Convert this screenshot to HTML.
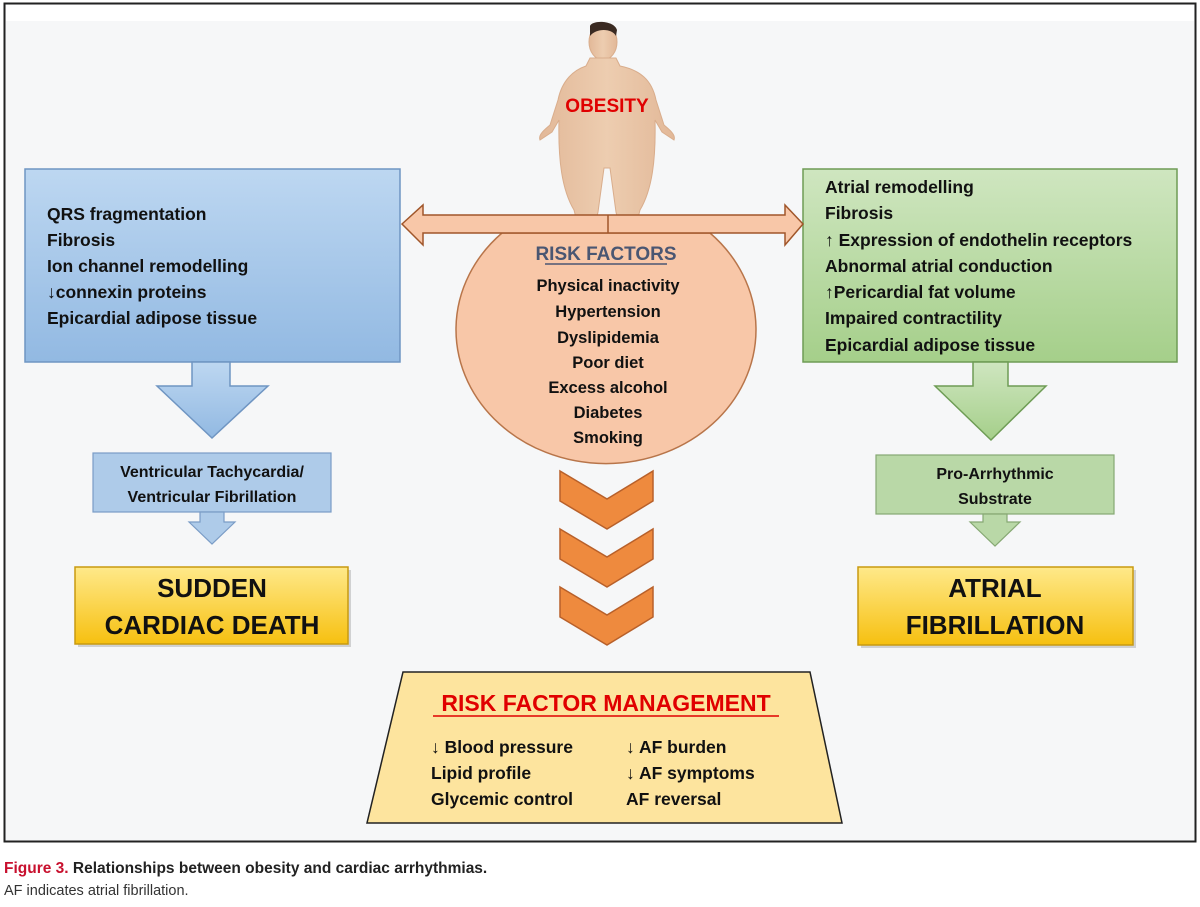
<!DOCTYPE html>
<html><head><meta charset="utf-8"><style>
html,body{margin:0;padding:0;background:#fff;width:1200px;height:907px;overflow:hidden}
svg{display:block}
text{font-family:"Liberation Sans",sans-serif;font-weight:bold}
</style></head><body>
<svg width="1200" height="907" viewBox="0 0 1200 907" xmlns="http://www.w3.org/2000/svg">
<defs>
<linearGradient id="gb" x1="0" y1="0" x2="0" y2="1"><stop offset="0" stop-color="#bdd7f1"/><stop offset="1" stop-color="#92b9e2"/></linearGradient>
<linearGradient id="gg" x1="0" y1="0" x2="0" y2="1"><stop offset="0" stop-color="#cfe6c0"/><stop offset="1" stop-color="#a5cf8a"/></linearGradient>
<linearGradient id="gy" x1="0" y1="0" x2="0" y2="1"><stop offset="0" stop-color="#ffe98a"/><stop offset="1" stop-color="#f6c010"/></linearGradient>
<linearGradient id="gsk" x1="0" y1="0" x2="1" y2="0"><stop offset="0" stop-color="#e2b898"/><stop offset="0.5" stop-color="#edcdb0"/><stop offset="1" stop-color="#e2b898"/></linearGradient>
</defs>
<rect x="4.5" y="3.5" width="1191" height="838" fill="#f6f7f8" stroke="#222" stroke-width="2"/>
<rect x="6" y="5" width="1188" height="16" fill="#fff"/>

<!-- obesity figure -->
<g fill="url(#gsk)" stroke="#d9ad8c" stroke-width="1">
<ellipse cx="603" cy="42" rx="14" ry="18"/>
<path d="M590,58 L616,58 L620,66 C640,70 652,80 656,100 L664,125 C670,130 676,135 674,140 L662,132 L655,120 C656,160 652,190 640,210 L636,226 L620,229 L616,212 L610,168 L604,168 L598,212 L594,229 L578,226 L574,210 C562,190 558,160 559,120 L552,132 L540,140 C538,135 544,130 550,125 L558,100 C562,80 574,70 586,66 Z"/>
</g>
<path d="M590,26 C592,20 614,20 617,30 L616,36 C612,28 596,28 590,36 Z" fill="#3a2a22"/>
<text x="607" y="112" font-size="19" fill="#e00000" text-anchor="middle">OBESITY</text>

<!-- blue box -->
<rect x="25" y="169" width="375" height="193" fill="url(#gb)" stroke="#6f95c2" stroke-width="1.5"/>
<g font-size="17.5" fill="#111">
<text x="47" y="220">QRS fragmentation</text>
<text x="47" y="246">Fibrosis</text>
<text x="47" y="272">Ion channel remodelling</text>
<text x="47" y="298">↓connexin proteins</text>
<text x="47" y="324">Epicardial adipose tissue</text>
</g>
<path d="M192,362 L230,362 L230,386 L268,386 L212,438 L157,386 L192,386 Z" fill="url(#gb)" stroke="#6f95c2" stroke-width="1.5"/>
<rect x="93" y="453" width="238" height="59" fill="#aecbe9" stroke="#7a9cc6" stroke-width="1.2"/>
<text x="212" y="477" font-size="16" fill="#111" text-anchor="middle">Ventricular Tachycardia/</text>
<text x="212" y="502" font-size="16" fill="#111" text-anchor="middle">Ventricular Fibrillation</text>
<path d="M200,512 L224,512 L224,522 L235,522 L212,544 L189,522 L200,522 Z" fill="#aecbe9" stroke="#7a9cc6" stroke-width="1.2"/>
<rect x="78" y="570" width="273" height="77" fill="#999" opacity="0.4"/>
<rect x="75" y="567" width="273" height="77" fill="url(#gy)" stroke="#c89a10" stroke-width="1.5"/>
<text x="212" y="597" font-size="26" fill="#111" text-anchor="middle">SUDDEN</text>
<text x="212" y="634" font-size="26" fill="#111" text-anchor="middle">CARDIAC DEATH</text>

<!-- green box -->
<rect x="803" y="169" width="374" height="193" fill="url(#gg)" stroke="#6e9c55" stroke-width="1.5"/>
<g font-size="17.5" fill="#111">
<text x="825" y="193">Atrial remodelling</text>
<text x="825" y="219">Fibrosis</text>
<text x="825" y="246">↑ Expression of endothelin receptors</text>
<text x="825" y="272">Abnormal atrial conduction</text>
<text x="825" y="298">↑Pericardial fat volume</text>
<text x="825" y="324">Impaired contractility</text>
<text x="825" y="351">Epicardial adipose tissue</text>
</g>
<path d="M973,362 L1008,362 L1008,386 L1046,386 L991,440 L935,386 L973,386 Z" fill="url(#gg)" stroke="#6e9c55" stroke-width="1.5"/>
<rect x="876" y="455" width="238" height="59" fill="#b9d8a7" stroke="#86a873" stroke-width="1.2"/>
<text x="995" y="479" font-size="16" fill="#111" text-anchor="middle">Pro-Arrhythmic</text>
<text x="995" y="504" font-size="16" fill="#111" text-anchor="middle">Substrate</text>
<path d="M983,514 L1007,514 L1007,522 L1020,522 L995,546 L970,522 L983,522 Z" fill="#b9d8a7" stroke="#86a873" stroke-width="1.2"/>
<rect x="861" y="570" width="275" height="78" fill="#999" opacity="0.4"/>
<rect x="858" y="567" width="275" height="78" fill="url(#gy)" stroke="#c89a10" stroke-width="1.5"/>
<text x="995" y="597" font-size="26" fill="#111" text-anchor="middle">ATRIAL</text>
<text x="995" y="634" font-size="26" fill="#111" text-anchor="middle">FIBRILLATION</text>

<!-- risk factors circle -->
<path d="M502,233 A150,134 0 1 0 710,233 Z" fill="#f8c7a8" stroke="#b8754a" stroke-width="1.5"/>
<!-- double arrow -->
<path d="M402,224 L423,205 L423,215 L785,215 L785,205 L803,224 L785,245 L785,233 L423,233 L423,245 Z" fill="#f8c7a8" stroke="#a0562a" stroke-width="1.5"/>
<line x1="608" y1="215" x2="608" y2="233" stroke="#a0562a" stroke-width="1.5"/>
<text x="606" y="260" font-size="19" fill="#4a5672" text-anchor="middle">RISK FACTORS</text>
<line x1="545" y1="264" x2="667" y2="264" stroke="#4a5672" stroke-width="1.5"/>
<g font-size="16.5" fill="#111" text-anchor="middle">
<text x="608" y="291">Physical inactivity</text>
<text x="608" y="317">Hypertension</text>
<text x="608" y="343">Dyslipidemia</text>
<text x="608" y="368">Poor diet</text>
<text x="608" y="393">Excess alcohol</text>
<text x="608" y="418">Diabetes</text>
<text x="608" y="443">Smoking</text>
</g>

<!-- chevrons -->
<g fill="#ee8a3e" stroke="#b8602a" stroke-width="1.5">
<path d="M560,471 L607,499 L653,471 L653,501 L607,529 L560,501 Z"/>
<path d="M560,529 L607,557 L653,529 L653,559 L607,587 L560,559 Z"/>
<path d="M560,587 L607,615 L653,587 L653,617 L607,645 L560,617 Z"/>
</g>

<!-- trapezoid -->
<path d="M403,672 L810,672 L842,823 L367,823 Z" fill="#fde49e" stroke="#222" stroke-width="1.5"/>
<text x="606" y="711" font-size="23" fill="#e00000" text-anchor="middle">RISK FACTOR MANAGEMENT</text>
<line x1="433" y1="716" x2="779" y2="716" stroke="#e00000" stroke-width="1.5"/>
<g font-size="17.5" fill="#111">
<text x="431" y="753">↓ Blood pressure</text>
<text x="431" y="779">Lipid profile</text>
<text x="431" y="805">Glycemic control</text>
<text x="626" y="753">↓ AF burden</text>
<text x="626" y="779">↓ AF symptoms</text>
<text x="626" y="805">AF reversal</text>
</g>

<!-- caption -->
<text x="4" y="873" font-size="15.5"><tspan fill="#c8102e">Figure 3.</tspan><tspan fill="#222"> Relationships between obesity and cardiac arrhythmias.</tspan></text>
<text x="4" y="895" font-size="14.5" fill="#333" style="font-weight:normal">AF indicates atrial fibrillation.</text>
</svg>
</body></html>
